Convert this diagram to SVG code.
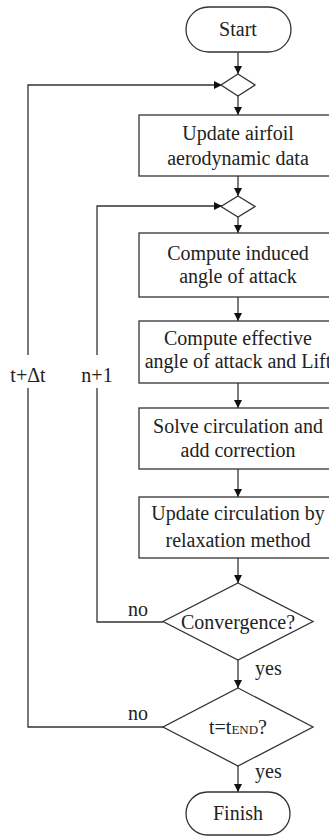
<svg xmlns="http://www.w3.org/2000/svg" width="329" height="836" viewBox="0 0 329 836">
<defs>
<marker id="ah" viewBox="0 0 10 10" refX="10" refY="5" markerWidth="8" markerHeight="8" markerUnits="userSpaceOnUse" orient="auto">
<path d="M0,0 L10,5 L0,10 z" fill="#111"/>
</marker>
<style>
.n{fill:#fff;stroke:#333;stroke-width:1.3}
.c{fill:none;stroke:#333;stroke-width:1.3}
.a{marker-end:url(#ah)}
.t{font-family:'Liberation Serif','DejaVu Serif','Times New Roman',serif;font-size:20px;fill:#222}
.m{text-anchor:middle}
</style>
</defs>
<rect width="329" height="836" fill="#fff"/>
<g id="connectors">
<line class="c a" x1="238" y1="52" x2="238" y2="74"/>
<line class="c a" x1="238" y1="96" x2="238" y2="115"/>
<line class="c a" x1="238" y1="176" x2="238" y2="196"/>
<line class="c a" x1="238" y1="217" x2="238" y2="233"/>
<line class="c a" x1="238" y1="297" x2="238" y2="321"/>
<line class="c a" x1="238" y1="383" x2="238" y2="408"/>
<line class="c a" x1="238" y1="469" x2="238" y2="497"/>
<line class="c a" x1="238" y1="558" x2="238" y2="583"/>
<line class="c a" x1="238" y1="660" x2="238" y2="688"/>
<line class="c a" x1="238" y1="766" x2="238" y2="792"/>
<polyline class="c" points="163,622 97,622 97,388"/>
<polyline class="c a" points="97,355 97,206 222,206"/>
<polyline class="c" points="163,727 28,727 28,388"/>
<polyline class="c a" points="28,355 28,85 222,85"/>
<text class="t m" x="97" y="382">n+1</text>
<text class="t m" x="28" y="382">t+Δt</text>
<text class="t" x="128" y="616">no</text>
<text class="t" x="128" y="720">no</text>
<text class="t" x="255" y="675">yes</text>
<text class="t" x="255" y="778">yes</text>
</g>
<g id="start"><rect class="n" x="186" y="7" width="105" height="45" rx="22.5"/><text class="t m" x="238" y="36">Start</text></g>
<g id="merge1"><polygon class="n" points="238,74 255,85 238,96 221,85"/></g>
<g id="update-airfoil"><rect class="n" x="139" y="115" width="198" height="61"/><text class="t m" x="238" y="140">Update airfoil</text><text class="t m" x="238" y="165">aerodynamic data</text></g>
<g id="merge2"><polygon class="n" points="238,196 255,206.5 238,217 221,206.5"/></g>
<g id="induced"><rect class="n" x="139" y="233" width="198" height="64"/><text class="t m" x="238" y="260">Compute induced</text><text class="t m" x="238" y="283">angle of attack</text></g>
<g id="effective"><rect class="n" x="139" y="321" width="198" height="62"/><text class="t m" x="238" y="345">Compute effective</text><text class="t m" x="238" y="368">angle of attack and Lift</text></g>
<g id="solve"><rect class="n" x="139" y="408" width="198" height="61"/><text class="t m" x="238" y="433">Solve circulation and</text><text class="t m" x="238" y="457">add correction</text></g>
<g id="relax"><rect class="n" x="139" y="497" width="198" height="61"/><text class="t m" x="238" y="520">Update circulation by</text><text class="t m" x="238" y="547">relaxation method</text></g>
<g id="convergence"><polygon class="n" points="238,583 313,621.5 238,660 163,621.5"/><text class="t m" x="238" y="629">Convergence?</text></g>
<g id="tend"><polygon class="n" points="238,688 313,727 238,766 163,727"/><text class="t m" x="238" y="734">t=t<tspan font-size="13">END</tspan>?</text></g>
<g id="finish"><rect class="n" x="186" y="792" width="104" height="43" rx="21.5"/><text class="t m" x="238" y="820">Finish</text></g>
</svg>
